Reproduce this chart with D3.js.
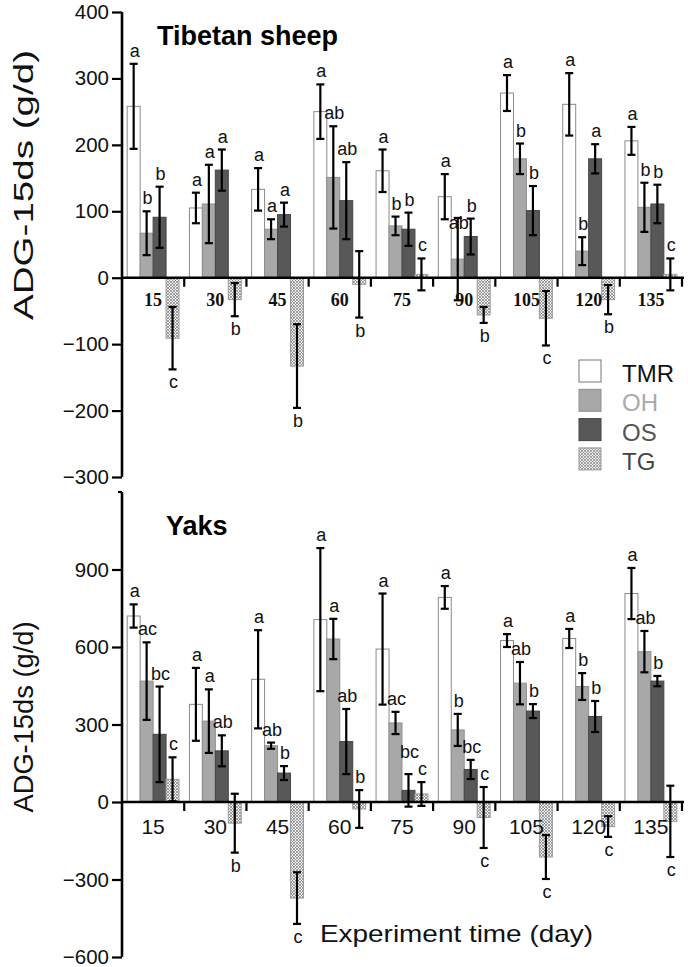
<!DOCTYPE html>
<html><head><meta charset="utf-8">
<script src="https://cdn.jsdelivr.net/npm/d3@7"></script>
<style>body{margin:0;background:#fff}svg{display:block}</style>
</head><body>
<script>
const days = ["15","30","45","60","75","90","105","120","135"];
const seriesNames = ["TMR","OH","OS","TG"];

const sheepTMR = [258,105,133,250,161,122,278,261,206];
const sheepTMRErr = [64,23,32,41,32,34,27,47,21];
const sheepOH = [67,111,73,151,78,28,179,40,106];
const sheepOHErr = [33,59,15,77,14,62,23,21,37];
const sheepOS = [91,162,95,116,73,62,101,179,111];
const sheepOSErr = [46,31,18,58,25,27,37,22,29];
const sheepTG = [-91,-33,-133,-10,5,-56,-61,-33,5];
const sheepTGErr = [47,25,63,50,24,12,41,22,24];
const sheepTMRLet = ["a","a","a","a","a","a","a","a","a"];
const sheepOHLet = ["b","a","a","ab","b","ab","b","b","b"];
const sheepOSLet = ["b","a","a","ab","b","b","b","a","b"];
const sheepTGLet = ["c","b","b","b","c","b","c","b","c"];
const sheepTGPos = ["d","d","d","d","u","d","d","d","u"];
const sheepTicks = [400,300,200,100,0,-100,-200,-300];

const yakTMR = [720,378,475,706,592,792,625,633,807];
const yakTMRErr = [45,141,190,277,215,44,25,37,99];
const yakOH = [468,313,218,631,306,279,460,447,582];
const yakOHErr = [150,123,12,78,43,62,82,52,80];
const yakOS = [262,198,112,234,45,126,352,331,468];
const yakOSErr = [185,60,27,126,63,37,27,60,20];
const yakTG = [88,-82,-372,-27,31,-60,-213,-95,-75];
const yakTGErr = [85,114,100,73,46,118,85,40,138];
const yakTMRLet = ["a","a","a","a","a","a","a","a","a"];
const yakOHLet = ["ac","a","ab","a","ac","b","ab","b","ab"];
const yakOSLet = ["bc","ab","b","ab","bc","bc","b","b","b"];
const yakTGLet = ["c","b","c","b","c","c","c","c","c"];
const yakTGPos = ["u","d","d","u","u","ud","d","d","d"];
const yakTicks = [900,600,300,0,-300,-600];

const W = 688, H = 967;
const sans = "'Liberation Sans', Arial, sans-serif";
const serif = "'Liberation Serif', 'Times New Roman', serif";
const svg = d3.select("body").append("svg").attr("width", W).attr("height", H);

const defs = svg.append("defs");
const pat = defs.append("pattern").attr("id","hatch").attr("patternUnits","userSpaceOnUse")
  .attr("width",3).attr("height",3);
pat.append("rect").attr("width",3).attr("height",3).attr("fill","#f2f2f2");
pat.append("path").attr("d","M0,0L3,3M3,0L0,3").attr("stroke","#7a7a7a").attr("stroke-width",0.7);

const fills = {TMR:"#ffffff", OH:"#a8a8a8", OS:"#585858", TG:"url(#hatch)"};
const strokes = {TMR:"#8a8a8a", OH:"#8f8f8f", OS:"#454545", TG:"#9a9a9a"};

const x = d3.scaleBand().domain(days).range([122, 682]).paddingInner(0).paddingOuter(0);
const xs = d3.scaleBand().domain(seriesNames).range([0, x.bandwidth()]).paddingInner(0).paddingOuter(0.4);

function panel(cfg) {
  const y = d3.scaleLinear().domain(cfg.domain).range(cfg.range);
  const g = svg.append("g");
  const data = [];
  seriesNames.forEach((s, si) => {
    days.forEach((d, i) => {
      data.push({s, d, v: cfg.vals[si][i], e: cfg.errs[si][i], l: cfg.lets[si][i],
        pos: s === "TG" ? cfg.tgPos[i] : "u"});
    });
  });
  g.selectAll("rect.bar").data(data).join("rect").attr("class","bar")
    .attr("x", d => x(d.d) + xs(d.s))
    .attr("width", xs.bandwidth())
    .attr("y", d => y(Math.max(0, d.v)))
    .attr("height", d => Math.abs(y(d.v) - y(0)))
    .attr("fill", d => fills[d.s]).attr("stroke", d => strokes[d.s]).attr("stroke-width", 1);
  const eg = g.selectAll("g.err").data(data).join("g").attr("class","err")
    .attr("stroke","#000").attr("stroke-width",2.2);
  const cx = d => x(d.d) + xs(d.s) + xs.bandwidth()/2;
  eg.append("line").attr("x1", cx).attr("x2", cx)
    .attr("y1", d => y(d.v + d.e)).attr("y2", d => y(d.v - d.e));
  eg.append("line").attr("x1", d => cx(d)-4).attr("x2", d => cx(d)+4)
    .attr("y1", d => y(d.v + d.e)).attr("y2", d => y(d.v + d.e));
  eg.append("line").attr("x1", d => cx(d)-4).attr("x2", d => cx(d)+4)
    .attr("y1", d => y(d.v - d.e)).attr("y2", d => y(d.v - d.e));
  const lab = [];
  data.forEach(d => {
    if (d.pos.includes("u")) lab.push({x: cx(d), y: y(d.v + d.e) - 7, t: d.l});
    if (d.pos.includes("d")) lab.push({x: cx(d), y: y(d.v - d.e) + 19, t: d.l});
  });
  // collision handling for letter labels
  lab.sort((a, b) => a.x - b.x);
  for (let i = 0; i < lab.length; i++) {
    for (let j = i + 1; j < lab.length; j++) {
      const a = lab[i], b = lab[j];
      const wa = a.t.length * 10, wb = b.t.length * 10;
      if (Math.abs(a.x - b.x) < (wa + wb) / 2 - 1 && Math.abs(a.y - b.y) < 12) {
        if (a.y < b.y - 4) a.y = b.y - 17;
        else a.y = Math.max(a.y, b.y) + 17;
      }
    }
  }
  g.selectAll("text.let").data(lab).join("text").attr("class","let")
    .attr("x", d => d.x + 1).attr("y", d => d.y).attr("text-anchor","middle")
    .attr("font-family", sans).attr("font-size", 18).attr("fill","#111").text(d => d.t);

  const ya = g.append("g").attr("transform","translate(122,0)")
    .call(d3.axisLeft(y).tickValues(cfg.ticks).tickSize(10).tickPadding(3).tickFormat(d3.format("d")));
  ya.select(".domain").attr("stroke","#000").attr("stroke-width",2.6).attr("d",
    `M0,${y(cfg.domain[1])}V${y(cfg.domain[0])}`);
  ya.selectAll(".tick line").attr("stroke","#000").attr("stroke-width",2.2);
  ya.selectAll(".tick text").attr("font-family", sans).attr("font-size", 20.5).attr("fill","#111");
  if (cfg.topTick) {
    g.append("line").attr("x1",118).attr("x2",122).attr("y1",y(cfg.domain[1])).attr("y2",y(cfg.domain[1]))
      .attr("stroke","#000").attr("stroke-width",2.2);
  }
  const y0 = y(0);
  g.append("line").attr("x1",122).attr("x2",684).attr("y1",y0).attr("y2",y0)
    .attr("stroke","#000").attr("stroke-width",2.6);
  g.selectAll("line.xt").data(days).join("line").attr("class","xt")
    .attr("x1", d => x(d) + x.bandwidth()).attr("x2", d => x(d) + x.bandwidth())
    .attr("y1", y0).attr("y2", y0 + 9).attr("stroke","#000").attr("stroke-width",2.2);
  g.selectAll("text.xl").data(days).join("text").attr("class","xl")
    .attr("x", d => x(d) + x.bandwidth()/2).attr("y", y0 + cfg.xlabDy)
    .attr("text-anchor","middle").attr("font-family", cfg.xlabFont)
    .attr("font-weight", cfg.xlabWeight).attr("font-size", cfg.xlabSize).attr("fill","#111").text(d => d);
  g.append("text").attr("x", cfg.titleX).attr("y", cfg.titleY).attr("font-family", sans)
    .attr("font-weight","bold").attr("font-size",27).attr("fill","#000").text(cfg.title);
  g.append("text").attr("transform", `translate(33,${cfg.ylabY}) rotate(-90)`)
    .attr("text-anchor","middle").attr("font-family", sans).attr("font-size",27).attr("fill","#111")
    .attr("textLength", cfg.ylabLen).attr("lengthAdjust","spacingAndGlyphs")
    .text("ADG-15ds (g/d)");
}

panel({
  domain: [-300, 400], range: [477, 12], ticks: sheepTicks,
  vals: [sheepTMR, sheepOH, sheepOS, sheepTG],
  errs: [sheepTMRErr, sheepOHErr, sheepOSErr, sheepTGErr],
  lets: [sheepTMRLet, sheepOHLet, sheepOSLet, sheepTGLet],
  tgPos: sheepTGPos,
  xlabDy: 28, xlabFont: serif, xlabWeight: "bold", xlabSize: 18,
  title: "Tibetan sheep", titleX: 157, titleY: 45,
  ylabY: 185, ylabLen: 270, topTick: false
});
panel({
  domain: [-600, 1200], range: [957, 492], ticks: yakTicks,
  vals: [yakTMR, yakOH, yakOS, yakTG],
  errs: [yakTMRErr, yakOHErr, yakOSErr, yakTGErr],
  lets: [yakTMRLet, yakOHLet, yakOSLet, yakTGLet],
  tgPos: yakTGPos,
  xlabDy: 32, xlabFont: sans, xlabWeight: "normal", xlabSize: 21,
  title: "Yaks", titleX: 166, titleY: 535,
  ylabY: 717, ylabLen: 191, topTick: true
});

svg.append("text").attr("x", 320).attr("y", 942).attr("font-family", sans).attr("font-size", 24)
  .attr("fill","#111").attr("textLength", 273).attr("lengthAdjust","spacingAndGlyphs")
  .text("Experiment time (day)");

const legColors = {TMR:"#111", OH:"#aaaaaa", OS:"#555555", TG:"#444444"};
const lg = svg.append("g").attr("transform","translate(579,360)");
const li = lg.selectAll("g").data(seriesNames).join("g")
  .attr("transform", (d,i) => `translate(0,${i*29.3})`);
li.append("rect").attr("width",22).attr("height",22)
  .attr("fill", d => fills[d]).attr("stroke", d => d === "TMR" ? "#777" : strokes[d]).attr("stroke-width",1);
li.append("text").attr("x",43).attr("y",22).attr("font-family", sans).attr("font-size",24)
  .attr("fill", d => legColors[d]).text(d => d);
</script>
</body></html>
